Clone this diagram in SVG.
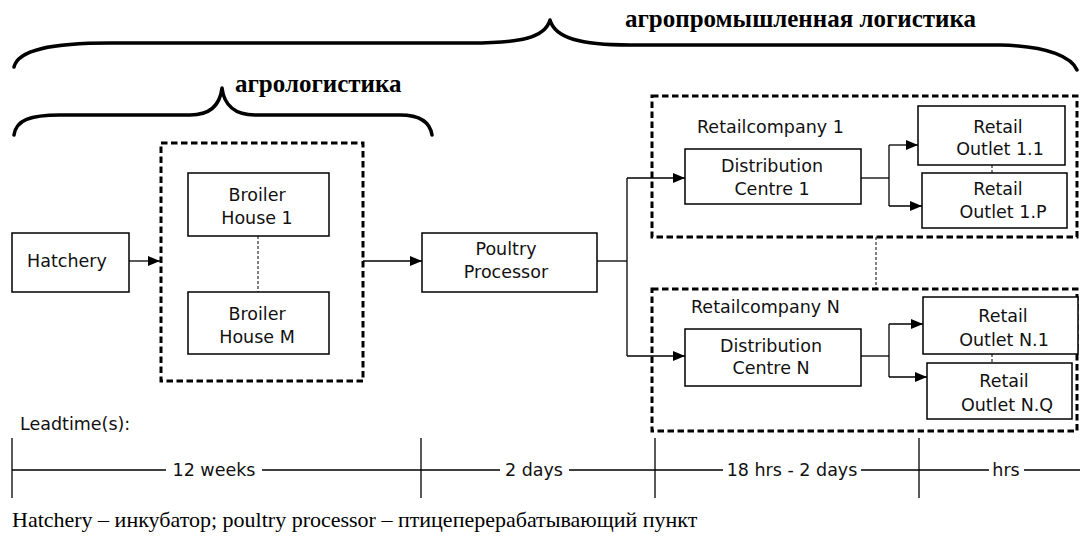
<svg xmlns="http://www.w3.org/2000/svg" width="1080" height="540" viewBox="0 0 1080 540">
<defs>
<marker id="ah" markerWidth="12" markerHeight="10" refX="12" refY="5" orient="auto" markerUnits="userSpaceOnUse">
<path d="M0,0 L12,5 L0,10 Z" fill="#000"/>
</marker>
<style>
.box{fill:#fff;stroke:#000;stroke-width:1.5}
.grp{fill:none;stroke:#000;stroke-width:3;stroke-dasharray:6.5 3.5}
.t{font-family:"DejaVu Sans",sans-serif;font-size:17.5px;fill:#111}
.c{text-anchor:middle}
.ln{fill:none;stroke:#000;stroke-width:1.3}
.arr{fill:none;stroke:#000;stroke-width:1.3;marker-end:url(#ah)}
.dot{fill:none;stroke:#000;stroke-width:1;stroke-dasharray:3 2}
.brace{fill:none;stroke:#000;stroke-width:3.5;stroke-linecap:round;stroke-linejoin:round}
.h{font-family:"Liberation Serif",serif;font-weight:bold;font-size:25px;fill:#000}
.cap{font-family:"Liberation Serif",serif;font-size:22px;fill:#000}
</style>
</defs>
<rect width="1080" height="540" fill="#fff"/>

<g id="braces">
<path class="brace" d="M14,67 C18,50 50,43 110,43 L470,43 C520,43 545,38 550,20 C555,38 580,45 630,45 L1000,45 C1050,46 1072,58 1077,70"/>
<path class="brace" d="M14,135 C16,120 30,115 60,115 L190,115 C210,115 220,105 222,88 C224,105 235,115 255,115 L400,115 C420,115 430,122 432,135"/>
<text class="h" x="625" y="27">агропромышленная логистика</text>
<text class="h" x="235" y="92">агрологистика</text>
</g>

<g id="broiler-group">
<rect class="grp" x="161" y="143" width="202" height="238"/>
</g>
<g id="retailco1">
<rect class="grp" x="652" y="96" width="425" height="141"/>
<text class="t" x="697" y="133">Retailcompany 1</text>
</g>
<g id="retailcoN">
<rect class="grp" x="652" y="289" width="425" height="142"/>
<text class="t" x="691" y="313">Retailcompany N</text>
</g>

<g id="connectors">
<line class="arr" x1="129" y1="261" x2="160" y2="261"/>
<line class="arr" x1="363" y1="261" x2="422" y2="261"/>
<polyline class="ln" points="597,261 627,261"/>
<line class="ln" x1="627" y1="178" x2="627" y2="356"/>
<line class="arr" x1="627" y1="178" x2="685" y2="178"/>
<line class="arr" x1="627" y1="356" x2="685" y2="356"/>
<line class="ln" x1="861" y1="178" x2="889" y2="178"/>
<line class="ln" x1="889" y1="145" x2="889" y2="206"/>
<line class="arr" x1="889" y1="145" x2="918" y2="145"/>
<line class="arr" x1="889" y1="206" x2="922" y2="206"/>
<line class="ln" x1="861" y1="356" x2="889" y2="356"/>
<line class="ln" x1="889" y1="324" x2="889" y2="377"/>
<line class="arr" x1="889" y1="324" x2="923" y2="324"/>
<line class="arr" x1="889" y1="377" x2="927" y2="377"/>
<line class="dot" x1="258" y1="236" x2="258" y2="292"/>
<line class="dot" x1="876" y1="237" x2="876" y2="289"/>
<line class="dot" x1="992" y1="165" x2="992" y2="173"/>
<line class="dot" x1="992" y1="354" x2="992" y2="363"/>
</g>

<g id="hatchery">
<rect class="box" x="12" y="233" width="117" height="59"/>
<text class="t c" x="67" y="267">Hatchery</text>
</g>
<g id="broiler1">
<rect class="box" x="188" y="173" width="141" height="63"/>
<text class="t c" x="257" y="201">Broiler</text>
<text class="t c" x="257" y="224">House 1</text>
</g>
<g id="broilerM">
<rect class="box" x="188" y="292" width="141" height="62"/>
<text class="t c" x="257" y="320">Broiler</text>
<text class="t c" x="257" y="343">House M</text>
</g>
<g id="processor">
<rect class="box" x="422" y="233" width="175" height="59"/>
<text class="t c" x="506" y="255">Poultry</text>
<text class="t c" x="506" y="278">Processor</text>
</g>
<g id="dc1">
<rect class="box" x="685" y="149" width="176" height="55"/>
<text class="t c" x="772" y="172">Distribution</text>
<text class="t c" x="772" y="195">Centre 1</text>
</g>
<g id="dcN">
<rect class="box" x="685" y="329" width="176" height="57"/>
<text class="t c" x="771" y="352">Distribution</text>
<text class="t c" x="771" y="374">Centre N</text>
</g>
<g id="outlet11">
<rect class="box" x="918" y="106" width="147" height="59"/>
<text class="t c" x="998" y="133">Retail</text>
<text class="t c" x="1000" y="155">Outlet 1.1</text>
</g>
<g id="outlet1P">
<rect class="box" x="922" y="173" width="145" height="55"/>
<text class="t c" x="998" y="195">Retail</text>
<text class="t c" x="1003" y="218">Outlet 1.P</text>
</g>
<g id="outletN1">
<rect class="box" x="923" y="297" width="155" height="57"/>
<text class="t c" x="1003" y="322">Retail</text>
<text class="t c" x="1004" y="346">Outlet N.1</text>
</g>
<g id="outletNQ">
<rect class="box" x="927" y="363" width="145" height="56"/>
<text class="t c" x="1004" y="387">Retail</text>
<text class="t c" x="1007" y="411">Outlet N.Q</text>
</g>

<g id="timeline">
<text class="t" x="20" y="430">Leadtime(s):</text>
<line class="ln" x1="12" y1="438" x2="12" y2="498"/>
<line class="ln" x1="421" y1="438" x2="421" y2="498"/>
<line class="ln" x1="655" y1="438" x2="655" y2="498"/>
<line class="ln" x1="919" y1="438" x2="919" y2="498"/>
<line class="ln" x1="12" y1="470" x2="166" y2="470"/>
<line class="ln" x1="262" y1="470" x2="500" y2="470"/>
<line class="ln" x1="569" y1="470" x2="723" y2="470"/>
<line class="ln" x1="861" y1="470" x2="989" y2="470"/>
<line class="ln" x1="1024" y1="470" x2="1080" y2="470"/>
<text class="t c" x="214" y="476">12 weeks</text>
<text class="t c" x="534" y="476">2 days</text>
<text class="t c" x="792" y="476">18 hrs - 2 days</text>
<text class="t c" x="1006" y="476">hrs</text>
</g>

<text class="cap" x="12" y="527">Hatchery – инкубатор; poultry processor – птицеперерабатывающий пункт</text>
</svg>
